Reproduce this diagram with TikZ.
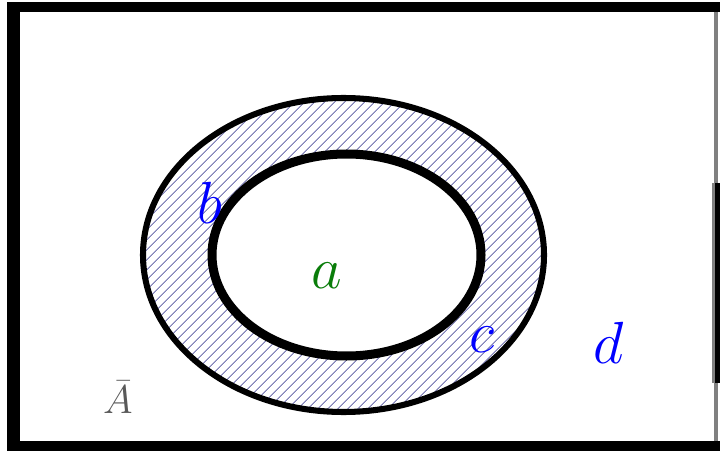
\documentclass[tikz,border=0pt]{standalone}
\usepackage{xcolor}
\usetikzlibrary{patterns.meta}
\definecolor{hatchblue}{RGB}{130,130,185}
\definecolor{letterblue}{RGB}{0,0,255}
\definecolor{lettergreen}{RGB}{10,125,10}
\definecolor{framegray}{RGB}{128,128,128}
\newcommand{\bigletter}[1]{\scalebox{1.7}{\Huge$#1$}}

\begin{document}
\begin{tikzpicture}[
  x=0.025cm, y=-0.025cm,
  ring/.style={draw=black},
  set label/.style={inner sep=0pt, text=letterblue},
  universe label/.style={inner sep=0pt, text=black!65}
]
\useasboundingbox (0,0) rectangle (720,451);
% frame
\fill (7,2) rectangle (720,12);
\fill (7,2) rectangle (20,451);
\fill (7,441) rectangle (720,451);
\fill[framegray] (714,12) rectangle (718,441);
\fill[framegray] (712,183) rectangle (715,383);
\fill (715,183) rectangle (720,383);
% ring between the two sets
\def\outerrx{200.5}
\def\outerry{157}
\def\innerrx{134.5}
\def\innerry{101}
\fill[white, pattern={Lines[angle=45, distance=5.4pt, line width=0.9pt]}, pattern color=hatchblue]
  (343.5,255) ellipse [x radius=\outerrx, y radius=\outerry];
\draw[ring, line width=4.3pt] (343.5,255) ellipse [x radius=\outerrx, y radius=\outerry];
\draw[ring, fill=white, line width=6.4pt] (346.5,255) ellipse [x radius=\innerrx, y radius=\innerry];
% labels
\node[set label, text=lettergreen] (a) at (327,276) {\bigletter{a}};
\node[set label] (b) at (210,203) {\bigletter{b}};
\node[set label] (c) at (482,340) {\bigletter{c}};
\node[set label] (d) at (609,343) {\bigletter{d}};
\node[universe label] (abar) at (118,397) {\scalebox{1.15}{\Huge$\bar{A}$}};
\end{tikzpicture}
\end{document}
